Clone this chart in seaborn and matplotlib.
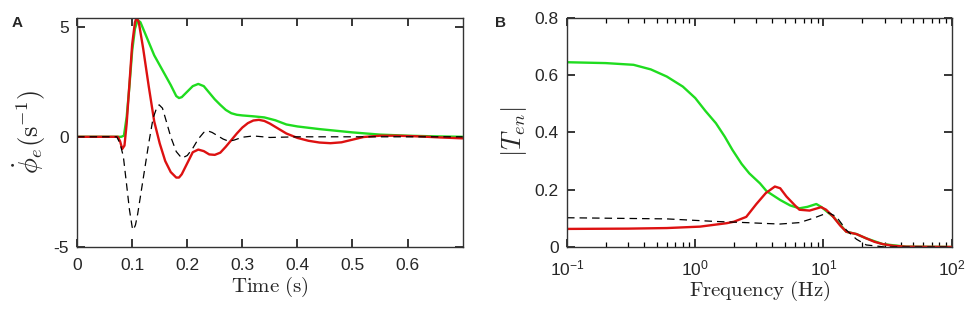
import numpy as np
import pandas as pd
import matplotlib
matplotlib.use("Agg")
import matplotlib.pyplot as plt
import matplotlib.ticker as mticker
import seaborn as sns

# Panel A: impulse response over time (s)
t_green = [0, 0.08, 0.085, 0.09, 0.095, 0.10, 0.105, 0.11, 0.115, 0.12, 0.13, 0.14, 0.15, 0.16,
           0.17, 0.18, 0.185, 0.19, 0.20, 0.21, 0.22, 0.23, 0.24, 0.25, 0.26, 0.27, 0.28, 0.29,
           0.30, 0.32, 0.34, 0.36, 0.38, 0.40, 0.44, 0.50, 0.55, 0.60, 0.65, 0.70]
v_green = [0, 0, 0.05, 0.9, 2.3, 3.9, 4.9, 5.3, 5.2, 4.9, 4.3, 3.7, 3.25, 2.8,
           2.35, 1.85, 1.76, 1.8, 2.05, 2.3, 2.4, 2.3, 2.0, 1.7, 1.45, 1.22, 1.07, 1.0,
           0.97, 0.93, 0.88, 0.75, 0.56, 0.47, 0.35, 0.2, 0.1, 0.05, 0.02, 0.0]

t_red = [0, 0.074, 0.078, 0.082, 0.086, 0.09, 0.095, 0.10, 0.105, 0.108, 0.112, 0.12, 0.13, 0.14,
         0.15, 0.16, 0.17, 0.18, 0.185, 0.19, 0.20, 0.21, 0.22, 0.23, 0.24, 0.25, 0.26, 0.27,
         0.28, 0.29, 0.30, 0.31, 0.32, 0.33, 0.34, 0.35, 0.36, 0.38, 0.40, 0.42, 0.44, 0.46,
         0.48, 0.50, 0.52, 0.55, 0.58, 0.62, 0.66, 0.70]
v_red = [0, 0, -0.2, -0.55, -0.4, 0.6, 2.4, 4.2, 5.2, 5.4, 5.2, 4.0, 2.3, 0.7,
         -0.3, -1.1, -1.6, -1.85, -1.85, -1.7, -1.2, -0.7, -0.58, -0.65, -0.8, -0.82, -0.72, -0.45,
         -0.15, 0.15, 0.42, 0.62, 0.74, 0.77, 0.72, 0.6, 0.45, 0.15, -0.05, -0.18, -0.26, -0.29,
         -0.25, -0.13, -0.01, 0.05, 0.05, 0.02, -0.03, -0.07]

t_black = [0, 0.072, 0.078, 0.084, 0.09, 0.095, 0.10, 0.102, 0.106, 0.11, 0.12, 0.13, 0.138, 0.145,
           0.149, 0.155, 0.162, 0.17, 0.18, 0.19, 0.20, 0.21, 0.22, 0.23, 0.237, 0.245, 0.255,
           0.265, 0.275, 0.285, 0.30, 0.32, 0.35, 0.40, 0.70]
v_black = [0, 0, -0.3, -0.9, -2.2, -3.3, -4.1, -4.23, -4.0, -3.5, -1.9, -0.3, 0.85, 1.35,
           1.45, 1.3, 0.7, 0.0, -0.67, -0.97, -0.85, -0.52, -0.1, 0.2, 0.27, 0.2, 0.05,
           -0.1, -0.2, -0.15, -0.02, 0.04, -0.03, 0.0, 0.0]

# Panel B: transfer function magnitude vs frequency (Hz)
f_green = [0.1, 0.2, 0.33, 0.45, 0.6, 0.8, 1.0, 1.2, 1.45, 1.7, 1.95, 2.3, 2.64, 3.2, 3.6, 4.6,
           5.5, 6.5, 7.5, 8.8, 9.6, 11.9, 15.1, 18.1, 21.6, 29, 44, 100]
m_green = [0.645, 0.642, 0.636, 0.62, 0.595, 0.56, 0.52, 0.475, 0.432, 0.385, 0.339, 0.29, 0.257,
           0.222, 0.195, 0.164, 0.145, 0.135, 0.14, 0.15, 0.14, 0.106, 0.053, 0.045, 0.03, 0.01,
           0.001, 0.0]

f_red = [0.1, 0.3, 0.6, 1.09, 1.76, 2.0, 2.5, 3.0, 3.55, 4.18, 4.6, 5.15, 6.0, 6.5, 7.8, 9.6,
         10.5, 11.9, 13.5, 15.1, 18.1, 21.6, 25, 29, 35, 44, 100]
m_red = [0.063, 0.064, 0.066, 0.071, 0.083, 0.088, 0.105, 0.15, 0.188, 0.211, 0.205, 0.176,
         0.145, 0.13, 0.127, 0.139, 0.13, 0.106, 0.075, 0.053, 0.045, 0.03, 0.018, 0.01, 0.004,
         0.001, 0.0]

f_black = [0.1, 0.6, 1.45, 2.5, 3.55, 4.57, 6.5, 8.3, 10.9, 12.6, 15.1, 18.1, 21.6, 30, 100]
m_black = [0.102, 0.098, 0.089, 0.085, 0.082, 0.080, 0.085, 0.10, 0.12, 0.106, 0.059, 0.027,
           0.007, 0.0, 0.0]

GREEN = "#1fdc1f"
RED = "#dd1111"

sns.set_style("ticks")
plt.rcParams["font.family"] = ["Liberation Sans", "DejaVu Sans"]
plt.rcParams["mathtext.fontset"] = "cm"
plt.rcParams["axes.unicode_minus"] = False

fig = plt.figure(figsize=(9.76, 3.13), dpi=100)
ax1 = fig.add_axes([0.079, 0.211, 0.395, 0.732])
ax2 = fig.add_axes([0.581, 0.211, 0.394, 0.732])

# Panel A
sns.lineplot(x=t_green, y=v_green, ax=ax1, color=GREEN, lw=1.7)
sns.lineplot(x=t_red, y=v_red, ax=ax1, color=RED, lw=1.7)
sns.lineplot(x=t_black, y=v_black, ax=ax1, color="black", lw=0.9, linestyle=(0, (6, 4)))
ax1.set_xlim(0, 0.7)
ax1.set_ylim(-5, 5.4)
ax1.set_xticks([0, 0.1, 0.2, 0.3, 0.4, 0.5, 0.6])
ax1.set_xticklabels(["0", "0.1", "0.2", "0.3", "0.4", "0.5", "0.6"])
ax1.set_yticks([-5, 0, 5])
ax1.set_yticklabels(["-5", "0", "5"])
ax1.set_xlabel(r"$\mathrm{Time\ (s)}$", fontsize=15, labelpad=1)
ax1.set_ylabel(r"$\dot{\phi}_e(\mathrm{s}^{-1})$", fontsize=19, labelpad=4)

# Panel B
sns.lineplot(x=f_green, y=m_green, ax=ax2, color=GREEN, lw=1.7)
sns.lineplot(x=f_red, y=m_red, ax=ax2, color=RED, lw=1.7)
sns.lineplot(x=f_black, y=m_black, ax=ax2, color="black", lw=0.9, linestyle=(0, (6, 4)))
ax2.set_xscale("log")
ax2.set_xlim(0.1, 100)
ax2.set_ylim(0, 0.8)
ax2.xaxis.set_minor_locator(mticker.LogLocator(base=10, subs=np.arange(2, 10), numticks=20))
ax2.xaxis.set_minor_formatter(mticker.NullFormatter())
ax2.set_yticks([0, 0.2, 0.4, 0.6, 0.8])
ax2.set_yticklabels(["0", "0.2", "0.4", "0.6", "0.8"])
ax2.set_xlabel(r"$\mathrm{Frequency\ (Hz)}$", fontsize=15, labelpad=1)
ax2.set_ylabel(r"$|T_{en}|$", fontsize=19, labelpad=4)

for ax in (ax1, ax2):
    ax.tick_params(axis="both", which="both", direction="in", top=True, right=True,
                   bottom=True, left=True, color="black")
    ax.tick_params(axis="both", which="major", labelsize=12.5, length=6, width=1.1)
    ax.tick_params(axis="x", which="major", pad=8)
    ax.tick_params(axis="y", which="major", pad=6)
    ax.tick_params(axis="both", which="minor", length=3.5, width=0.9)
    for s in ax.spines.values():
        s.set_linewidth(1.0)
        s.set_color("#333333")

fig.text(0.012, 0.915, "A", fontsize=11, fontweight="bold")
fig.text(0.507, 0.915, "B", fontsize=11, fontweight="bold")

fig.savefig("out.png", dpi=100)
